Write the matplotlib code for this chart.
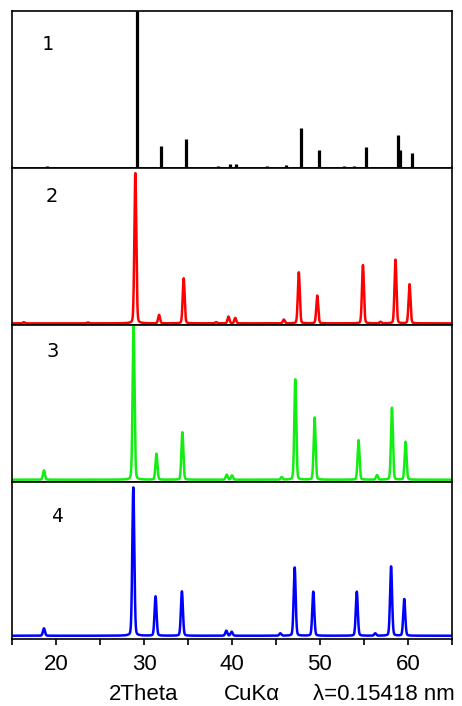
import numpy as np
import matplotlib

matplotlib.use("Agg")
import matplotlib.pyplot as plt
from matplotlib.ticker import MultipleLocator

# reference stick pattern (panel 1): 2theta, relative intensity
REF_POS = [18.9, 29.15, 31.9, 34.76, 38.37, 39.8, 40.5, 44.0, 46.17, 47.88,
           49.93, 52.7, 53.84, 55.2, 57.3, 58.85, 59.1, 60.5]
REF_INT = [1.0, 100, 13.9, 18.5, 1.0, 2.5, 2.0, 1.0, 1.5, 25.4,
           11.5, 0.7, 0.8, 13.2, 0.6, 20.7, 11.0, 9.0]

# measured patterns: peak positions / heights (% of strongest)
RED_POS = [16.3, 23.6, 29.0, 31.7, 34.5, 38.2, 39.6, 40.37, 45.9, 47.6, 49.7, 54.9, 56.9, 58.6, 60.2]
RED_INT = [0.8, 0.6, 100, 5.6, 30.0, 0.8, 4.5, 3.6, 2.5, 34.0, 18.5, 38.8, 1.0, 42.4, 26.0]

GREEN_POS = [18.6, 28.8, 31.4, 34.35, 39.4, 40.0, 45.65, 47.2, 49.4, 54.4, 56.5, 58.2, 59.75]
GREEN_INT = [6.1, 100, 17.0, 31.0, 3.3, 2.8, 1.7, 65.5, 40.6, 25.8, 3.0, 47.0, 24.7]

BLUE_POS = [18.6, 28.77, 31.3, 34.3, 39.35, 39.96, 45.5, 47.13, 49.25, 54.2, 56.3, 58.1, 59.6]
BLUE_INT = [5.0, 100, 26.5, 29.9, 3.4, 2.7, 1.6, 46.0, 29.7, 29.7, 1.6, 46.7, 24.7]

LABELS = ["1", "2", "3", "4"]
W, H = 462, 706
X0, X1 = 12.3, 451.7
EDGES = [11, 167.5, 325, 482, 639]


def profile(x, pos, amp, fwhm):
    y = np.zeros_like(x)
    s = fwhm / 2.3548
    g = fwhm / 2
    for p, a in zip(pos, amp):
        gau = np.exp(-0.5 * ((x - p) / s) ** 2)
        lor = g ** 2 / ((x - p) ** 2 + g ** 2)
        y += a * (0.85 * gau + 0.15 * lor)
    return y


fig = plt.figure(figsize=(W / 100, H / 100), dpi=100)
axes = []
for i in range(4):
    top, bot = EDGES[i], EDGES[i + 1]
    ax = fig.add_axes([X0 / W, 1 - bot / H, (X1 - X0) / W, (bot - top) / H])
    ax.set_xlim(15, 65)
    ax.set_yticks([])
    for sp in ax.spines.values():
        sp.set_linewidth(1.2)
    axes.append(ax)

x = np.linspace(15, 65, 6001)

# panel 1: sticks
axes[0].vlines(REF_POS, 0, REF_INT, color="black", lw=2.3)
axes[0].set_ylim(0, 100)

specs = [(RED_POS, RED_INT, "#ff0000", 0.26, (-1.1, 103.8)),
         (GREEN_POS, GREEN_INT, "#11ee11", 0.26, (-1.5, 101.0)),
         (BLUE_POS, BLUE_INT, "#0000ff", 0.27, (-2.2, 103.6))]
for ax, (pos, amp, col, fw, yl) in zip(axes[1:], specs):
    ax.plot(x, profile(x, pos, amp, fw), color=col, lw=1.8)
    ax.set_ylim(*yl)

for ax in axes[:3]:
    ax.set_xticks([])
    ax.tick_params(axis="x", which="both", length=0)

axb = axes[3]
axb.xaxis.set_major_locator(MultipleLocator(10))
axb.xaxis.set_minor_locator(MultipleLocator(5))
axb.set_xticks([20, 30, 40, 50, 60])
axb.tick_params(axis="x", which="both", direction="out", length=4, width=1.2,
                labelsize=16, pad=7)
for t in axb.get_xticklabels():
    t.set_family("Liberation Sans")

lab_xy = [(48, 44, "DejaVu Sans Mono"), (52, 196, "DejaVu Sans"),
          (53, 351, "DejaVu Sans"), (58, 517, "DejaVu Sans Mono")]
for (lx, ly, fam), s in zip(lab_xy, LABELS):
    fig.text(lx / W, 1 - ly / H, s, ha="center", va="center", fontsize=14, family=fam)

fig.text(109 / W, 1 - 695 / H, "2Theta", ha="left", va="center", fontsize=16, family="Liberation Sans")
fig.text(224 / W, 1 - 695 / H, "CuK\u03b1", ha="left", va="center", fontsize=16, family="Liberation Sans")
fig.text(455 / W, 1 - 695 / H, "\u03bb=0.15418 nm", ha="right", va="center", fontsize=16,
         family="Liberation Sans")

fig.savefig("out.png", dpi=100)
